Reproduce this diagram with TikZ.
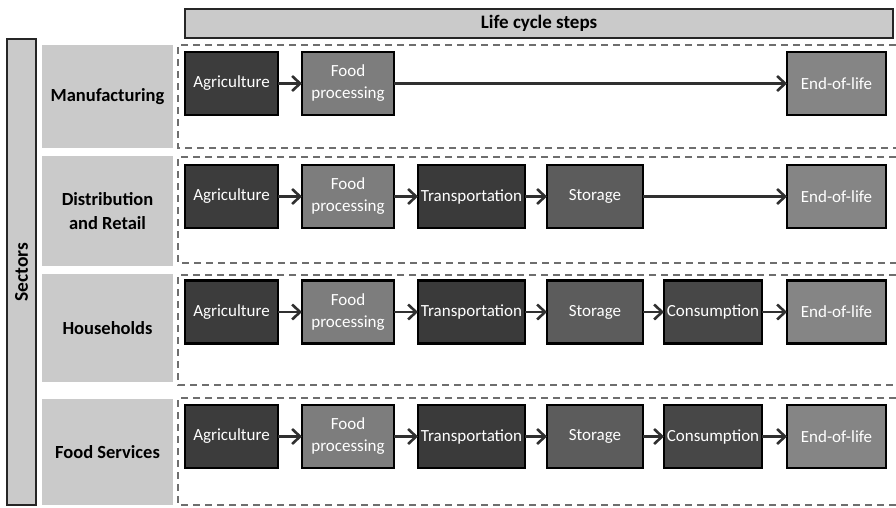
\documentclass[tikz,border=0pt]{standalone}
\usepackage{fontspec}
\setmainfont{Carlito}
\usetikzlibrary{arrows.meta}
\definecolor{lbl}{HTML}{CACACA}
\definecolor{cAg}{HTML}{3C3C3C}
\definecolor{cFood}{HTML}{7D7D7D}
\definecolor{cTr}{HTML}{3A3A3A}
\definecolor{cSt}{HTML}{5C5C5C}
\definecolor{cCo}{HTML}{474747}
\definecolor{cEol}{HTML}{858585}
\definecolor{dash}{HTML}{6E6E6E}
\definecolor{arr}{HTML}{303030}
\tikzset{
  stepbox/.style={draw=black, line width=2.4pt, inner sep=0pt, outer sep=0pt,
    minimum height=63pt, text=white, align=center,
    font=\fontsize{17}{22}\selectfont},
  lblbox/.style={fill=lbl, inner sep=0pt, outer sep=0pt, align=center,
    font=\fontsize{18.5}{24}\selectfont\bfseries},
  headbar/.style={draw=black!85, line width=2.8pt, fill=lbl, inner sep=0pt, outer sep=0pt},
  dashbox/.style={draw=dash, line width=2.6pt, dash pattern=on 7pt off 5pt},
  flow/.style={draw=arr, line width=2.6pt, -{Straight Barb[length=8pt,width=15pt,line width=2.6pt]}},
}
\begin{document}
\begin{tikzpicture}[x=1pt,y=-1pt]
\useasboundingbox (0,0) rectangle (896,507);
% header bars
\node[headbar, minimum width=708pt, minimum height=29pt] (life) at (539,23.5) {};
\node[font=\fontsize{19}{21}\selectfont\bfseries] (lifet) at (life) {Life cycle steps};
\node[headbar, minimum width=29pt, minimum height=466pt] (sect) at (21.5,272) {};
\node[rotate=90, font=\fontsize{19.5}{21}\selectfont\bfseries] (sectt) at (sect) {Sectors};
% sector labels
\node[lblbox, minimum width=131pt, minimum height=103pt] (l1) at (107.5,96.5) {Manufacturing};
\node[lblbox, minimum width=131pt, minimum height=110pt] (l2) at (107.5,211) {Distribution\\and Retail};
\node[lblbox, minimum width=131pt, minimum height=108pt] (l3) at (107.5,328) {Households};
\node[lblbox, minimum width=131pt, minimum height=106pt] (l4) at (107.5,452) {Food Services};
% dashed frames
\draw[dashbox] (896,45) -- (178,45) -- (178,148) -- (896,148);
\draw[dashbox] (896,157) -- (178,157) -- (178,263) -- (896,263);
\draw[dashbox] (896,275) -- (178,275) -- (178,385) -- (896,385);
\draw[dashbox] (896,398) -- (178,398) -- (178,505) -- (896,505);
% row 1
\node[stepbox, fill=cAg, minimum width=93pt] (a1) at (231.5,83.5) {Agriculture};
\node[stepbox, fill=cFood, minimum width=92pt] (f1) at (348,83.5) {Food\\processing};
\node[stepbox, fill=cEol, minimum width=99pt] (e1) at (836.5,83.5) {End-of-life};
\draw[flow] (a1) -- (f1);
\draw[flow] (f1) -- (e1);
% row 2
\node[stepbox, fill=cAg, minimum width=93pt] (a2) at (231.5,196.5) {Agriculture};
\node[stepbox, fill=cFood, minimum width=92pt] (f2) at (348,196.5) {Food\\processing};
\node[stepbox, fill=cTr, minimum width=107pt] (t2) at (471.5,196.5) {Transportation};
\node[stepbox, fill=cSt, minimum width=96pt] (s2) at (595,196.5) {Storage};
\node[stepbox, fill=cEol, minimum width=99pt] (e2) at (836.5,196.5) {End-of-life};
\draw[flow] (a2) -- (f2);
\draw[flow] (f2) -- (t2);
\draw[flow] (t2) -- (s2);
\draw[flow] (s2) -- (e2);
% row 3
\node[stepbox, fill=cAg, minimum width=93pt] (a3) at (231.5,312) {Agriculture};
\node[stepbox, fill=cFood, minimum width=92pt] (f3) at (348,312) {Food\\processing};
\node[stepbox, fill=cTr, minimum width=107pt] (t3) at (471.5,312) {Transportation};
\node[stepbox, fill=cSt, minimum width=96pt] (s3) at (595,312) {Storage};
\node[stepbox, fill=cCo, minimum width=98pt] (c3) at (713,312) {Consumption};
\node[stepbox, fill=cEol, minimum width=99pt] (e3) at (836.5,312) {End-of-life};
\draw[flow] (a3) -- (f3);
\draw[flow] (f3) -- (t3);
\draw[flow] (t3) -- (s3);
\draw[flow] (s3) -- (c3);
\draw[flow] (c3) -- (e3);
% row 4
\node[stepbox, fill=cAg, minimum width=93pt] (a4) at (231.5,436.5) {Agriculture};
\node[stepbox, fill=cFood, minimum width=92pt] (f4) at (348,436.5) {Food\\processing};
\node[stepbox, fill=cTr, minimum width=107pt] (t4) at (471.5,436.5) {Transportation};
\node[stepbox, fill=cSt, minimum width=96pt] (s4) at (595,436.5) {Storage};
\node[stepbox, fill=cCo, minimum width=98pt] (c4) at (713,436.5) {Consumption};
\node[stepbox, fill=cEol, minimum width=99pt] (e4) at (836.5,436.5) {End-of-life};
\draw[flow] (a4) -- (f4);
\draw[flow] (f4) -- (t4);
\draw[flow] (t4) -- (s4);
\draw[flow] (s4) -- (c4);
\draw[flow] (c4) -- (e4);
\end{tikzpicture}
\end{document}
